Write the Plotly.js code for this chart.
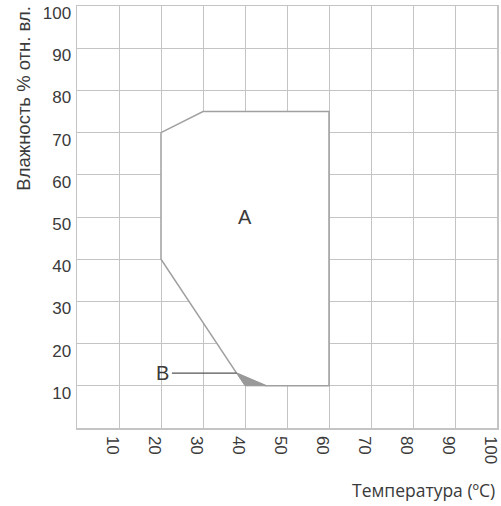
<!DOCTYPE html>
<html><head><meta charset="utf-8">
<script src="https://cdn.plot.ly/plotly-3.0.1.min.js"></script>
<style>html,body{margin:0;padding:0;background:#fff;}</style>
</head><body><div id="chart" style="width:501px;height:506px;"></div>
<script>
// Region A boundary (temperature °C, humidity %)
const regionA_x = [20, 30, 60, 60, 45, 38, 20, 20];
const regionA_y = [70, 75, 75, 10, 10, 13, 40, 70];
// Region B (small shaded triangle)
const regionB_x = [38, 40, 45, 38];
const regionB_y = [13, 10, 10, 13];
// Leader line for label B
const leaderB_x = [22.6, 38];
const leaderB_y = [13, 13];
// Tick values
const xTicks = [10, 20, 30, 40, 50, 60, 70, 80, 90, 100];
const yTicks = [10, 20, 30, 40, 50, 60, 70, 80, 90, 100];

const gridCol = '#c4c4c4';
const edgeCol = '#a0a0a0';
const txt = '#3a3a3a';
const helv = 'Liberation Sans, Arial, sans-serif';

const traces = [
  {x: regionA_x, y: regionA_y, mode: 'lines', fill: 'toself', fillcolor: '#ffffff',
   line: {color: edgeCol, width: 1.5}, hoverinfo: 'skip', showlegend: false},
  {x: regionB_x, y: regionB_y, mode: 'lines', fill: 'toself', fillcolor: '#999999',
   line: {color: '#999999', width: 1}, hoverinfo: 'skip', showlegend: false},
  {x: leaderB_x, y: leaderB_y, mode: 'lines', line: {color: '#555555', width: 1.2},
   hoverinfo: 'skip', showlegend: false}
];

const layout = {
  width: 501, height: 506,
  margin: {l: 77, r: 4, t: 6, b: 78},
  paper_bgcolor: '#fff', plot_bgcolor: '#fff',
  showlegend: false,
  font: {family: helv, color: txt, size: 17},
  xaxis: {range: [0, 100], tickvals: xTicks, ticktext: xTicks.map(String), tickangle: 90,
    showgrid: true, gridcolor: gridCol, gridwidth: 1, zeroline: false,
    showline: true, linecolor: gridCol, linewidth: 1.5, mirror: true, ticks: '',
    ticklabelshift: -6, ticklabelstandoff: 3,
    tickfont: {family: helv, size: 17, color: txt}, fixedrange: true},
  yaxis: {range: [0, 100], tickvals: yTicks, ticktext: yTicks.map(String),
    showgrid: true, gridcolor: gridCol, gridwidth: 1, zeroline: false,
    showline: true, linecolor: gridCol, linewidth: 1.5, mirror: true, ticks: '',
    ticklabelshift: 7, ticklabelstandoff: 1,
    tickfont: {family: helv, size: 17, color: txt}, fixedrange: true},
  annotations: [
    {x: -0.128, y: 0.781, xref: 'paper', yref: 'paper', text: 'Влажность % отн. вл.',
     textangle: -90, showarrow: false, xanchor: 'center', yanchor: 'middle',
     font: {family: helv, size: 18.5, color: txt}},
    {x: 40, y: 50, xref: 'x', yref: 'y', text: 'A', showarrow: false,
     font: {family: helv, size: 20, color: txt}},
    {x: 22.4, y: 13, xref: 'x', yref: 'y', text: 'B', showarrow: false, xanchor: 'right',
     font: {family: helv, size: 20, color: txt}},
    {x: 1, y: -0.147, xref: 'paper', yref: 'paper', xanchor: 'right', yanchor: 'middle',
     text: 'Температура (ºC)', showarrow: false,
     font: {family: 'Open Sans, sans-serif', size: 17.5, color: txt}}
  ]
};

Plotly.newPlot('chart', traces, layout, {displayModeBar: false, staticPlot: true});
</script></body></html>
